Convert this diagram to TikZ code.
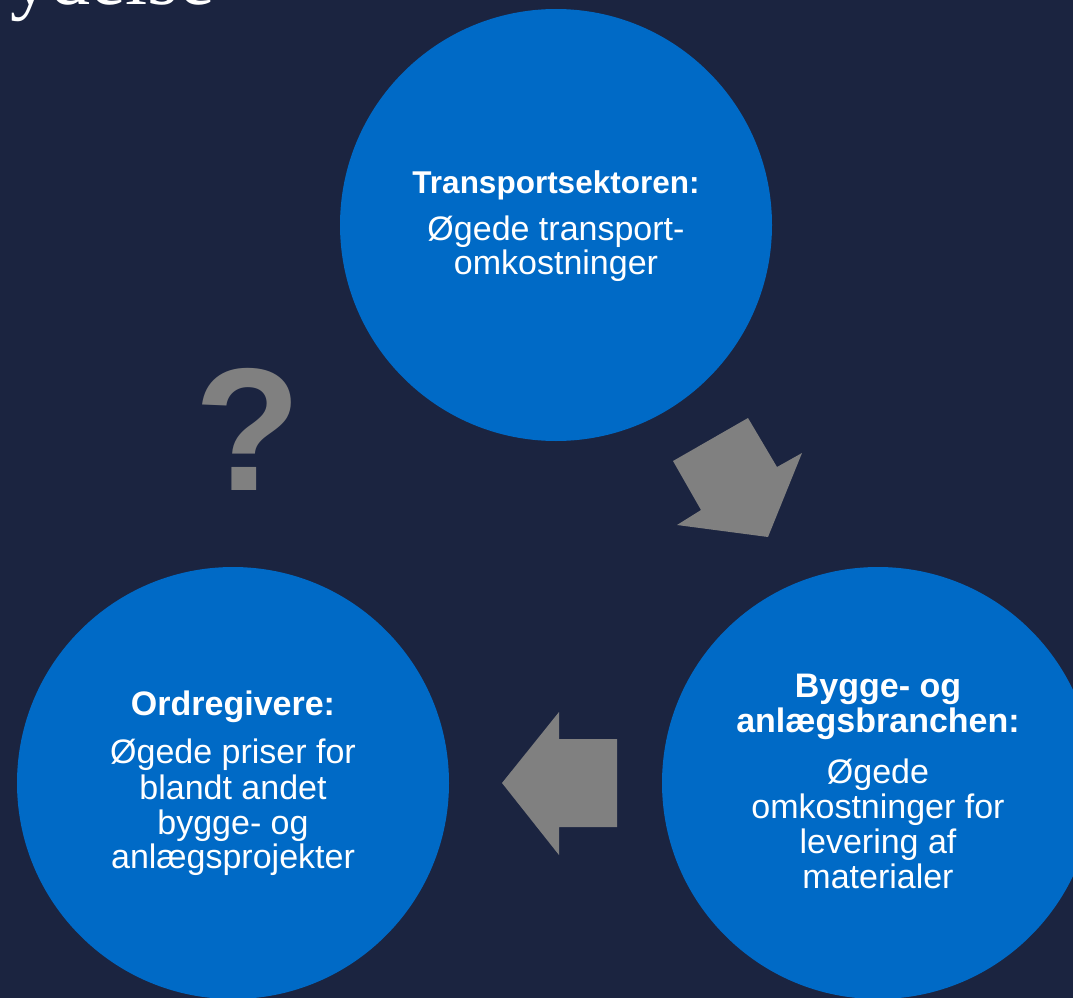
\documentclass[tikz,border=0pt]{standalone}
\usepackage{fontspec}
\setmainfont{Liberation Sans}
\newfontfamily\titlefont{Liberation Serif}
\definecolor{bg}{HTML}{1B2440}
\definecolor{circ}{HTML}{006AC6}
\definecolor{arr}{HTML}{808080}
\tikzset{
  bubble/.style={circle, fill=circ, draw=none, minimum size=432pt, inner sep=0pt},
  head/.style={anchor=base, text=white, inner sep=0pt, font=\bfseries\fontsize{34}{35}\selectfont},
  body/.style={anchor=base, text=white, inner sep=0pt, font=\fontsize{34}{35}\selectfont},
  blockarrow/.style={fill=arr, draw=none},
}
\begin{document}
\begin{tikzpicture}[x=1pt,y=-1pt]
\useasboundingbox (0,0) rectangle (1073,998);
\clip (0,0) rectangle (1073,998);
\fill[bg] (0,0) rectangle (1073,998);

\node[anchor=base west, text=white, inner sep=0pt, font=\titlefont\fontsize{80}{80}\selectfont] (title) at (10,5) {ydelse};

\node[bubble] (trans) at (556,225) {};
\node[bubble] (bygge) at (878,783) {};
\node[bubble] (ordre) at (233,783) {};

% block arrows
\fill[blockarrow] (673,461) -- (748,418) -- (777,467) -- (802,453) -- (768,537) -- (677,525) -- (701,510) -- cycle;
\fill[blockarrow] (617,739) -- (559,739) -- (559,712) -- (502,783) -- (559,855) -- (559,827) -- (617,827) -- cycle;

% question mark
\node[anchor=base, text=arr, inner sep=0pt, font=\bfseries\fontsize{175}{175}\selectfont] (qm) at (248,490) {?};

% top circle text
\node[head, font=\bfseries\fontsize{31.5}{33}\selectfont] (t1) at (556,193) {Transportsektoren:};
\node[body] (t2) at (556,240) {Øgede transport-};
\node[body] (t3) at (556,274) {omkostninger};

% bottom-left circle text
\node[head] (o1) at (233,715) {Ordregivere:};
\node[body] (o2) at (233,763) {Øgede priser for};
\node[body] (o3) at (233,799) {blandt andet};
\node[body] (o4) at (233,834) {bygge- og};
\node[body] (o5) at (233,868) {anlægsprojekter};

% bottom-right circle text
\node[head] (b1) at (878,697) {Bygge- og};
\node[head] (b2) at (878,732) {anlægsbranchen:};
\node[body] (b3) at (878,783) {Øgede};
\node[body] (b4) at (878,818) {omkostninger for};
\node[body] (b5) at (878,853) {levering af};
\node[body] (b6) at (878,888) {materialer};
\end{tikzpicture}
\end{document}
